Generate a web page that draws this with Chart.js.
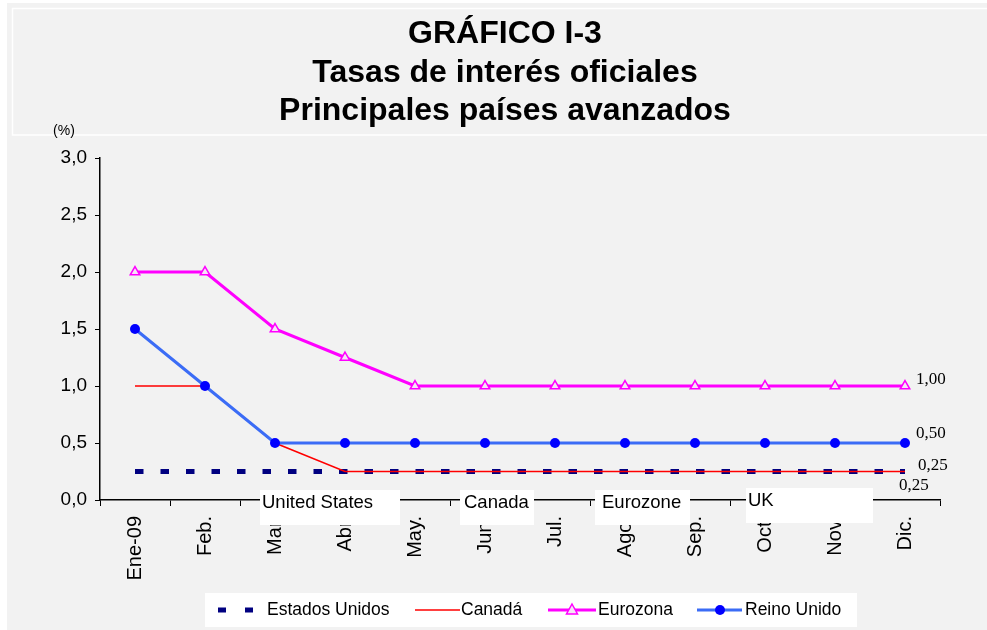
<!DOCTYPE html>
<html>
<head>
<meta charset="utf-8">
<script src="https://cdn.jsdelivr.net/npm/chart.js@4.4.1/dist/chart.umd.min.js"></script>
<style>
    html, body { margin: 0; padding: 0; background: #fff; }
    #wrap { position: relative; width: 987px; height: 630px; }
</style>
</head>
<body>
<div id="wrap"><canvas id="tasasChart" width="987" height="630"></canvas></div>
<script>
// Datos del gráfico (tasas oficiales, %)
const meses = ['Ene-09', 'Feb.', 'Mar.', 'Abr.', 'May.', 'Jun.', 'Jul.', 'Ago.', 'Sep.', 'Oct.', 'Nov.', 'Dic.'];
const estadosUnidos = [0.25, 0.25, 0.25, 0.25, 0.25, 0.25, 0.25, 0.25, 0.25, 0.25, 0.25, 0.25];
const canada = [1.0, 1.0, 0.5, 0.25, 0.25, 0.25, 0.25, 0.25, 0.25, 0.25, 0.25, 0.25];
const eurozona = [2.0, 2.0, 1.5, 1.25, 1.0, 1.0, 1.0, 1.0, 1.0, 1.0, 1.0, 1.0];
const reinoUnido = [1.5, 1.0, 0.5, 0.5, 0.5, 0.5, 0.5, 0.5, 0.5, 0.5, 0.5, 0.5];
const yMin = 0, yMax = 3, yStep = 0.5;
const titulo = ['GRÁFICO I-3', 'Tasas de interés oficiales', 'Principales países avanzados'];
const etiquetasSuperpuestas = ['United States', 'Canada', 'Eurozone', 'UK'];

const SANS = '"Liberation Sans", Arial, sans-serif';
const SERIF = '"Liberation Serif", "Times New Roman", serif';

const COLORS = {
    navy: '#000080',
    red: '#ff0000',
    magenta: '#ff00ff',
    blueLine: '#3b6cf6',
    blueDot: '#0000ff',
    bg: '#f2f2f2'
};

const coma = v => v.toFixed(1).replace('.', ',');

// fondo, marco y título
const fondoPlugin = {
    id: 'fondo',
    beforeDraw(chart) {
        const ctx = chart.ctx;
        ctx.save();
        ctx.fillStyle = '#ffffff';
        ctx.fillRect(0, 0, chart.width, chart.height);
        ctx.fillStyle = COLORS.bg;
        ctx.fillRect(7, 3, chart.width - 7, chart.height - 3);
        ctx.strokeStyle = '#ffffff';
        ctx.lineWidth = 1.5;
        ctx.strokeRect(12.5, 8.5, chart.width, 126.5);

        ctx.fillStyle = '#000';
        ctx.textAlign = 'center';
        ctx.textBaseline = 'alphabetic';
        ctx.font = 'bold 32px ' + SANS;
        titulo.forEach((linea, i) => {
            ctx.fillText(linea, 505, 43 + i * 38.5);
        });

        ctx.font = '14px ' + SANS;
        ctx.textBaseline = 'middle';
        ctx.fillText('(%)', 64, 131);
        ctx.restore();
    }
};

// valores finales a la derecha
const valoresFinalesPlugin = {
    id: 'valoresFinales',
    afterDatasetsDraw(chart) {
        const ctx = chart.ctx;
        const offsets = [[13, -6], [-6, 14], [11, -6], [11, -9]];
        ctx.save();
        ctx.font = '17px ' + SERIF;
        ctx.fillStyle = '#000';
        ctx.textAlign = 'left';
        ctx.textBaseline = 'middle';
        chart.data.datasets.forEach((ds, i) => {
            const meta = chart.getDatasetMeta(i);
            const last = meta.data.length - 1;
            const pt = meta.data[last];
            const txt = ds.data[last].toFixed(2).replace('.', ',');
            ctx.fillText(txt, pt.x + offsets[i][0], pt.y + offsets[i][1]);
        });
        ctx.restore();
    }
};

// cajas blancas superpuestas y leyenda
const superpuestoPlugin = {
    id: 'superpuesto',
    afterDraw(chart) {
        const ctx = chart.ctx;
        ctx.save();
        const cajas = [
            [260, 490, 140, 35, 262, 503],
            [460, 490, 74, 35, 464, 503],
            [595, 490, 95, 35, 602, 503],
            [746, 488, 127, 35, 748, 501]
        ];
        ctx.font = '18.5px ' + SANS;
        ctx.textAlign = 'left';
        ctx.textBaseline = 'middle';
        cajas.forEach((c, i) => {
            ctx.fillStyle = '#ffffff';
            ctx.fillRect(c[0], c[1], c[2], c[3]);
            ctx.fillStyle = '#000';
            ctx.fillText(etiquetasSuperpuestas[i], c[4], c[5]);
        });

        // leyenda
        const ly = 610;
        ctx.fillStyle = '#ffffff';
        ctx.fillRect(205, 593, 652, 34);
        const ds = chart.data.datasets;
        ctx.lineCap = 'butt';
        // Estados Unidos
        ctx.strokeStyle = ds[0].borderColor;
        ctx.lineWidth = ds[0].borderWidth;
        ctx.beginPath();
        ctx.moveTo(218, ly); ctx.lineTo(226, ly);
        ctx.moveTo(245, ly); ctx.lineTo(253, ly);
        ctx.stroke();
        // Canadá
        ctx.strokeStyle = ds[1].borderColor;
        ctx.lineWidth = ds[1].borderWidth;
        ctx.beginPath(); ctx.moveTo(415, ly); ctx.lineTo(460, ly); ctx.stroke();
        // Eurozona
        ctx.strokeStyle = ds[2].borderColor;
        ctx.lineWidth = ds[2].borderWidth;
        ctx.beginPath(); ctx.moveTo(548, ly); ctx.lineTo(596, ly); ctx.stroke();
        ctx.fillStyle = ds[2].pointBackgroundColor;
        ctx.lineWidth = 1.5;
        ctx.beginPath();
        ctx.moveTo(572, ly - 6); ctx.lineTo(577.5, ly + 4); ctx.lineTo(566.5, ly + 4); ctx.closePath();
        ctx.fill(); ctx.stroke();
        // Reino Unido
        ctx.strokeStyle = ds[3].borderColor;
        ctx.lineWidth = ds[3].borderWidth;
        ctx.beginPath(); ctx.moveTo(697, ly); ctx.lineTo(742, ly); ctx.stroke();
        ctx.fillStyle = ds[3].pointBackgroundColor;
        ctx.beginPath(); ctx.arc(720, ly, 5, 0, Math.PI * 2); ctx.fill();

        ctx.fillStyle = '#000';
        ctx.font = '17.5px ' + SANS;
        ctx.fillText(ds[0].label, 267, ly);
        ctx.fillText(ds[1].label, 461, ly);
        ctx.fillText(ds[2].label, 598, ly);
        ctx.fillText(ds[3].label, 745, ly);
        ctx.restore();
    }
};

function renderTasasChart() {
    const ctx = document.getElementById('tasasChart');
    if (!ctx) {
        console.error('Canvas element not found: tasasChart');
        return null;
    }

    return new Chart(ctx, {
        type: 'line',
        data: {
            labels: meses,
            datasets: [
                {
                    label: 'Estados Unidos',
                    data: estadosUnidos,
                    borderColor: COLORS.navy,
                    borderWidth: 5,
                    borderDash: [8.5, 17],
                    pointRadius: 0,
                    tension: 0,
                    order: 4
                },
                {
                    label: 'Canadá',
                    data: canada,
                    borderColor: COLORS.red,
                    borderWidth: 1.5,
                    pointRadius: 0,
                    tension: 0,
                    order: 3
                },
                {
                    label: 'Eurozona',
                    data: eurozona,
                    borderColor: COLORS.magenta,
                    borderWidth: 3,
                    pointStyle: 'triangle',
                    pointRadius: 5.5,
                    pointBorderWidth: 1.5,
                    pointBorderColor: COLORS.magenta,
                    pointBackgroundColor: '#f6e4f6',
                    tension: 0,
                    order: 2
                },
                {
                    label: 'Reino Unido',
                    data: reinoUnido,
                    borderColor: COLORS.blueLine,
                    borderWidth: 3,
                    pointRadius: 5,
                    pointBorderWidth: 0,
                    pointBackgroundColor: COLORS.blueDot,
                    pointBorderColor: COLORS.blueDot,
                    tension: 0,
                    order: 1
                }
            ]
        },
        options: {
            responsive: false,
            animation: false,
            layout: {
                padding: { left: 0, right: 47, top: 158, bottom: 0 }
            },
            plugins: {
                title: { display: false },
                legend: { display: false },
                tooltip: { enabled: false }
            },
            scales: {
                x: {
                    offset: true,
                    grid: {
                        offset: true,
                        drawOnChartArea: false,
                        drawTicks: true,
                        tickLength: 6,
                        color: '#000'
                    },
                    border: { color: '#000', width: 1.5 },
                    ticks: {
                        color: '#000',
                        minRotation: 90,
                        maxRotation: 90,
                        padding: 10,
                        font: { family: SANS, size: 20 }
                    },
                    afterFit: (scale) => { scale.height = 130; }
                },
                y: {
                    min: yMin,
                    max: yMax,
                    grid: {
                        drawOnChartArea: false,
                        drawTicks: true,
                        tickLength: 5,
                        color: '#000'
                    },
                    border: { color: '#000', width: 1.5 },
                    ticks: {
                        stepSize: yStep,
                        color: '#000',
                        padding: 8,
                        font: { family: SANS, size: 19 },
                        callback: (v) => coma(v)
                    },
                    afterFit: (scale) => { scale.width = 100; }
                }
            }
        },
        plugins: [fondoPlugin, valoresFinalesPlugin, superpuestoPlugin]
    });
}

document.addEventListener('DOMContentLoaded', function() {
    const chart = renderTasasChart();
    if (chart) {
        console.log('chartArea', JSON.stringify(chart.chartArea));
    }
});
</script>
</body>
</html>
